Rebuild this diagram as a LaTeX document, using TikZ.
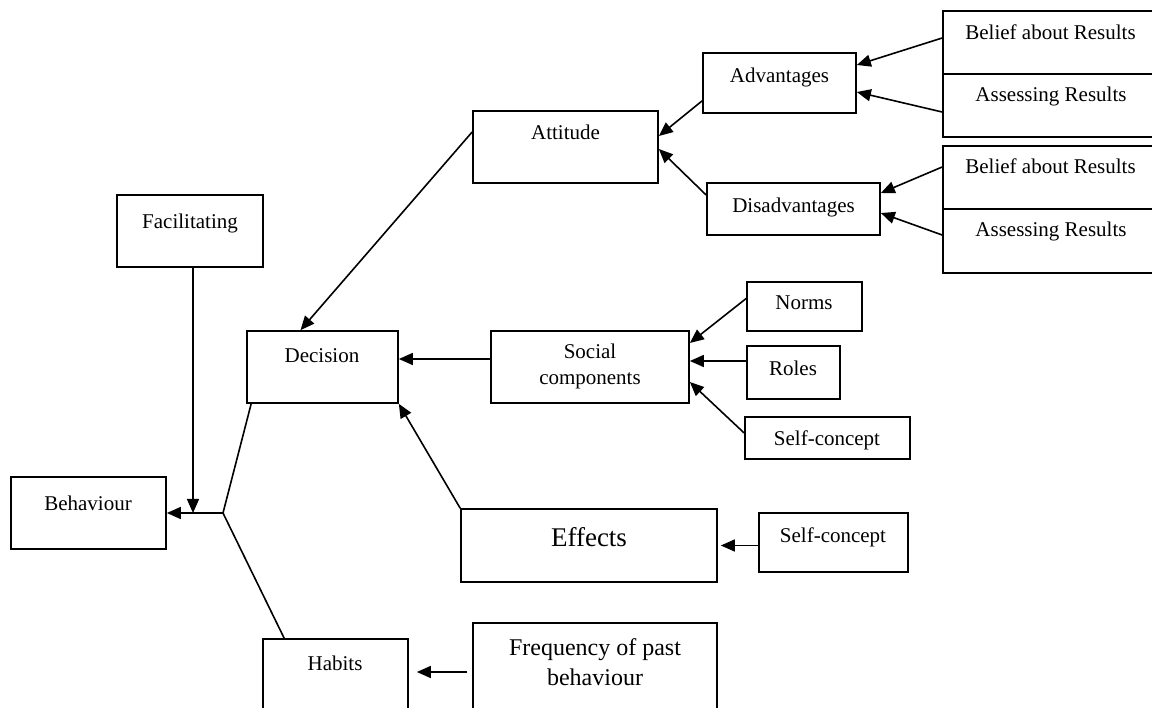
\documentclass[tikz,border=0pt]{standalone}
\usepackage{fontspec}
\setmainfont{Liberation Serif}
\usetikzlibrary{arrows.meta}
\begin{document}
\begin{tikzpicture}[x=1pt,y=-1pt,
  box/.style={draw, line width=1.7pt, rectangle, inner sep=0pt},
  txt/.style={inner sep=0pt, anchor=base, font=\fontsize{21}{26}\selectfont},
  link/.style={line width=1.6pt},
  arr/.style={line width=1.6pt, -{Triangle[length=14pt,width=12pt]}}]
\useasboundingbox (0,0) rectangle (1152,708);

% ---- boxes ----
\node[box, minimum width=185pt, minimum height=72pt] (att) at (565.5,147) {};
\node[box, minimum width=153pt, minimum height=60pt] (adv) at (779.5,83) {};
\node[box, minimum width=173pt, minimum height=52pt] (dis) at (793.5,209) {};
\node[box, minimum width=222pt, minimum height=63pt] (bel1) at (1054,42.5) {};
\node[box, minimum width=222pt, minimum height=63pt] (ass1) at (1054,105.5) {};
\node[box, minimum width=222pt, minimum height=63pt] (bel2) at (1054,177.5) {};
\node[box, minimum width=222pt, minimum height=64pt] (ass2) at (1054,241) {};
\node[box, minimum width=146pt, minimum height=72pt] (fac) at (190,231) {};
\node[box, minimum width=151pt, minimum height=72pt] (dec) at (322.5,367) {};
\node[box, minimum width=198pt, minimum height=72pt] (soc) at (590,367) {};
\node[box, minimum width=115pt, minimum height=49pt] (nor) at (804.5,306.5) {};
\node[box, minimum width=93pt, minimum height=53pt] (rol) at (793.5,372.5) {};
\node[box, minimum width=165pt, minimum height=42pt] (sc1) at (827.5,438) {};
\node[box, minimum width=256pt, minimum height=73pt] (eff) at (589,545.5) {};
\node[box, minimum width=149pt, minimum height=59pt] (sc2) at (833.5,542.5) {};
\node[box, minimum width=155pt, minimum height=72pt] (beh) at (88.5,513) {};
\node[box, minimum width=145pt, minimum height=91pt] (hab) at (335.5,684.5) {};
\node[box, minimum width=244pt, minimum height=107pt] (frq) at (595,676.5) {};

% ---- texts ----
\node[txt] (attT) at (565.5,140) {Attitude};
\node[txt] (advT) at (779.5,83) {Advantages};
\node[txt] (disT) at (793.5,213) {Disadvantages};
\node[txt] (bel1T) at (1050.5,40) {Belief about Results};
\node[txt] (ass1T) at (1051,102) {Assessing Results};
\node[txt] (bel2T) at (1050.5,174) {Belief about Results};
\node[txt] (ass2T) at (1051,237) {Assessing Results};
\node[txt] (facT) at (190,229) {Facilitating};
\node[txt] (decT) at (322,363) {Decision};
\node[txt, anchor=center, align=center] (socT) at (590,366) {Social\\components};
\node[txt] (norT) at (804,310) {Norms};
\node[txt] (rolT) at (793,376) {Roles};
\node[txt] (sc1T) at (827,446) {Self-concept};
\node[txt, font=\fontsize{27}{32}\selectfont] (effT) at (589,546) {Effects};
\node[txt] (sc2T) at (833,543) {Self-concept};
\node[txt] (behT) at (88,511) {Behaviour};
\node[txt] (habT) at (335,670) {Habits};
\node[txt, anchor=center, align=center, font=\fontsize{24}{30}\selectfont] (frqT) at (595,662) {Frequency of past\\behaviour};

% ---- connectors ----
\draw[arr] ([yshift=4.5pt]bel1.west) -- ([yshift=18pt]adv.east);
\draw[arr] ([yshift=-6.5pt]ass1.west) -- ([yshift=-9pt]adv.east);
\draw[arr] ([yshift=10.5pt]bel2.west) -- ([yshift=16pt]dis.east);
\draw[arr] ([yshift=6pt]ass2.west) -- ([yshift=-4pt]dis.east);

\draw[arr] ([yshift=13pt]adv.south west) -- ([yshift=11pt]att.east);
\draw[arr] ([yshift=14pt]dis.west) -- ([yshift=-2pt]att.east);

\draw[arr] ([yshift=15pt]att.west) -- ([xshift=-22pt]dec.north);

\draw[arr] ([yshift=8pt]nor.west) -- ([yshift=24pt]soc.east);
\draw[arr] ([yshift=11.5pt]rol.west) -- ([yshift=6pt]soc.east);
\draw[arr] ([yshift=5pt]sc1.west) -- ([yshift=-15pt]soc.east);
\draw[arr] ([yshift=8pt]soc.west) -- ([yshift=8pt]dec.east);

\draw[arr] (eff.north west) -- (dec.south east);
\draw[arr, shorten >=3pt] (sc2.west |- eff.east) -- (eff.east);

\draw[arr, shorten <=5pt, shorten >=8pt] ([yshift=4.5pt]frq.west) -- ([yshift=4.5pt]frq.west -| hab.east);

% ---- junction feeding Behaviour ----
\coordinate (j) at (223,513);
\draw[link] ([xshift=5pt]dec.south west) -- (j) -- ([xshift=22pt]hab.north west);
\draw[arr] (j) -- (beh.east);
\draw[arr] ([xshift=3pt]fac.south) -- ([xshift=3pt]fac.south |- beh.east);
\end{tikzpicture}
\end{document}
